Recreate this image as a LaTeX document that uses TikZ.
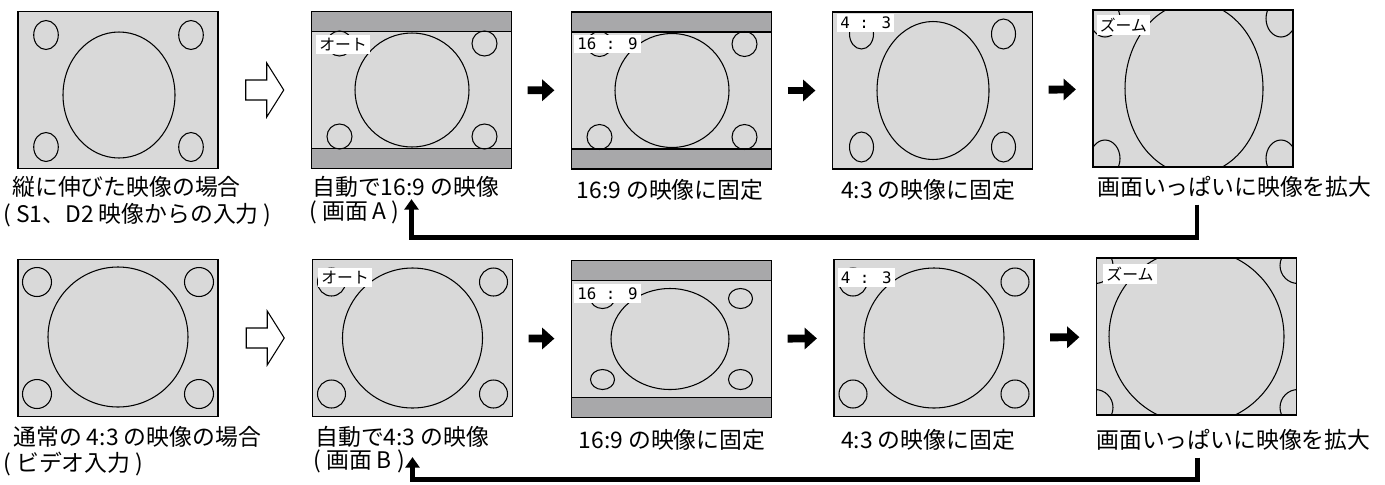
\documentclass[tikz,border=0pt]{standalone}
\usepackage{fontspec}
\setmainfont{Noto Sans CJK JP}
\newfontfamily\tagmono{DejaVu Sans Mono}
\usetikzlibrary{arrows.meta, positioning, calc}
\definecolor{scrgray}{HTML}{D9D9D9}
\definecolor{bargray}{HTML}{A8A8AA}
\tikzset{%
	scr/.style={draw, line width=0.7pt, fill=scrgray, minimum width=4cm, minimum height=3.14cm, inner sep=0mm},
	obj/.style={line width=0.6pt},
	bar/.style={draw, line width=0.6pt, fill=bargray},
	pane/.style={draw, line width=1.1pt},
	tag/.style={fill=white, inner sep=1.8pt, anchor=north west, font=\fontsize{9}{10}\selectfont},
	lbl/.style={inner sep=0mm, font=\fontsize{13}{15}\selectfont},
	nextarr/.style={line width=4.5pt, -{Triangle[length=7pt, width=12pt]}, shorten <=0.31cm, shorten >=0.33cm},
	ret/.style={line width=2.8pt, -{Triangle[length=6pt, width=8pt]}},
	hollow/.pic={\draw[line width=0.6pt, fill=white] (-19,-10) -- (2,-10) -- (2,-27) -- (19,0) -- (2,27) -- (2,10) -- (-19,10) -- cycle;}
}

\begin{document}
\begin{tikzpicture}[x=0.02cm, y=-0.02cm]
	\useasboundingbox (0,0) rectangle (1385,484);

	\node[scr] (a1) at (118,90) {};
	\node[scr] (a2) at (411.5,90) {};
	\node[scr] (a3) at (671.5,90.5) {};
	\node[scr] (a4) at (932.5,90.5) {};
	\node[scr] (a5) at (1193,88.5) {};

	\node[scr] (b1) at (118,338) {};
	\node[scr] (b2) at (412.5,338) {};
	\node[scr] (b3) at (671.5,339) {};
	\node[scr] (b4) at (934,338) {};
	\node[scr] (b5) at (1196.5,336.5) {};

	\begin{scope}[shift={(a1.center)}]
		\draw[obj] (1,5) ellipse (56 and 63);
		\foreach \x/\y in {-72/-55, 73/-55, -72/57, 73/57}
			\draw[obj] (\x,\y) ellipse (12.3 and 14.5);
	\end{scope}
	\foreach \s in {a2, a3} {
		\begin{scope}[shift={(\s.center)}]
			\draw[bar] (-100,-78.5) rectangle (100,-58.5);
			\draw[bar] (-100,58.5) rectangle (100,78.5);
			\draw[pane] (-100,-58.5) rectangle (100,58.5);
			\draw[obj] (0.5,0) circle (57);
			\foreach \x/\y in {-72/-46.5, 73/-46.5, -72/46.5, 73/46.5}
				\draw[obj] (\x,\y) circle (12.5);
		\end{scope}
	}
	\begin{scope}[shift={(a4.center)}]
		\draw[obj] (0.5,0) ellipse (56 and 69);
		\foreach \x/\y in {-71/-56.5, 71/-56.5, -71/56.5, 71/56.5}
			\draw[obj] (\x,\y) ellipse (12 and 15);
	\end{scope}
	\begin{scope}[shift={(a5.center)}]
		\clip (-100,-78.5) rectangle (100,78.5);
		\draw[obj] (1,0) ellipse (69 and 86);
		\foreach \x/\y in {-88/-70, 88/-70, -88/70, 88/70}
			\draw[obj] (\x,\y) ellipse (15 and 18.5);
	\end{scope}

	\begin{scope}[shift={(b1.center)}]
		\draw[obj] (0,-1) circle (70);
		\foreach \x/\y in {-81/-56, 81/-56, -81/56, 81/56}
			\draw[obj] (\x,\y) circle (14.5);
	\end{scope}
	\foreach \s in {b2, b4} {
		\begin{scope}[shift={(\s.center)}]
			\draw[obj] (0,0) circle (70);
			\foreach \x/\y in {-81/-56, 81/-56, -81/56, 81/56}
				\draw[obj] (\x,\y) circle (14);
		\end{scope}
	}
	\begin{scope}[shift={(b3.center)}]
		\draw[bar] (-100,-78.5) rectangle (100,-58.5);
		\draw[bar] (-100,58.5) rectangle (100,78.5);
		\draw[pane] (-100,-58.5) rectangle (100,58.5);
		\draw[obj] (-1.5,0) ellipse (59 and 50.5);
		\foreach \x/\y in {-69/-40.5, 69/-40.5, -69/40.5, 69/40.5}
			\draw[obj] (\x,\y) ellipse (12 and 10);
	\end{scope}
	\begin{scope}[shift={(b5.center)}]
		\clip (-100,-78.5) rectangle (100,78.5);
		\draw[obj] (0,0) circle (87.5);
		\foreach \x/\y in {-101.5/-71, 101.5/-71, -101.5/71, 101.5/71}
			\draw[obj] (\x,\y) circle (18);
	\end{scope}

	\node[tag] (ta2) at ($(a2.north west)+(5,24)$) {オート};
	\node[tag] (ta3) at ($(a3.north west)+(3,23)$) {\tagmono 16 : 9};
	\node[tag] (ta4) at ($(a4.north west)+(5,2)$) {\tagmono 4 : 3};
	\node[tag] (ta5) at ($(a5.north west)+(4,5)$) {ズーム};
	\node[tag] (tb2) at ($(b2.north west)+(6,9)$) {オート};
	\node[tag] (tb3) at ($(b3.north west)+(3,24)$) {\tagmono 16 : 9};
	\node[tag] (tb4) at ($(b4.north west)+(4,9)$) {\tagmono 4 : 3};
	\node[tag] (tb5) at ($(b5.north west)+(7,6)$) {ズーム};

	\pic at ($(a1.east)!0.5!(a2.west)$) {hollow};
	\pic at ($(b1.east)!0.5!(b2.west)$) {hollow};
	\draw[nextarr] (a2) -- (a3);
	\draw[nextarr] (a3) -- (a4);
	\draw[nextarr] (a4) -- (a5);
	\draw[nextarr] (b2) -- (b3);
	\draw[nextarr] (b3) -- (b4);
	\draw[nextarr] (b4) -- (b5);

	\node[lbl, anchor=west] (la1) at (12,187) {縦に伸びた映像の場合};
	\node[lbl, anchor=west] (la1x) at (3,215) {( S1、D2 映像からの入力 )};
	\node[lbl, anchor=west] (la2) at (312,187) {自動で16:9 の映像};
	\node[lbl, anchor=west] (la2x) at (309,212) {( 画面 A )};
	\node[lbl] (la3) at (670,190) {16:9 の映像に固定};
	\node[lbl] (la4) at (928,190) {4:3 の映像に固定};
	\node[lbl, anchor=west] (la5) at (1097,187) {画面いっぱいに映像を拡大};

	\node[lbl, anchor=west] (lb1) at (13,437) {通常の 4:3 の映像の場合};
	\node[lbl, anchor=west] (lb1x) at (3,464) {( ビデオ入力 )};
	\node[lbl, anchor=west] (lb2) at (315,437) {自動で4:3 の映像};
	\node[lbl, anchor=west] (lb2x) at (313,461) {( 画面 B )};
	\node[lbl] (lb3) at (672,440) {16:9 の映像に固定};
	\node[lbl] (lb4) at (928,440) {4:3 の映像に固定};
	\node[lbl, anchor=west] (lb5) at (1096,440) {画面いっぱいに映像を拡大};

	\coordinate (ra) at ($(a5.south)+(4,37)$);
	\coordinate (rb) at ($(b5.south)+(1,42)$);
	\draw[ret] (ra) -- ++(0,33) -| ($(a2.south)+(0,30)$);
	\draw[ret] (rb) -- ++(0,22) -| ($(b2.south)+(0,40)$);
\end{tikzpicture}
\end{document}
